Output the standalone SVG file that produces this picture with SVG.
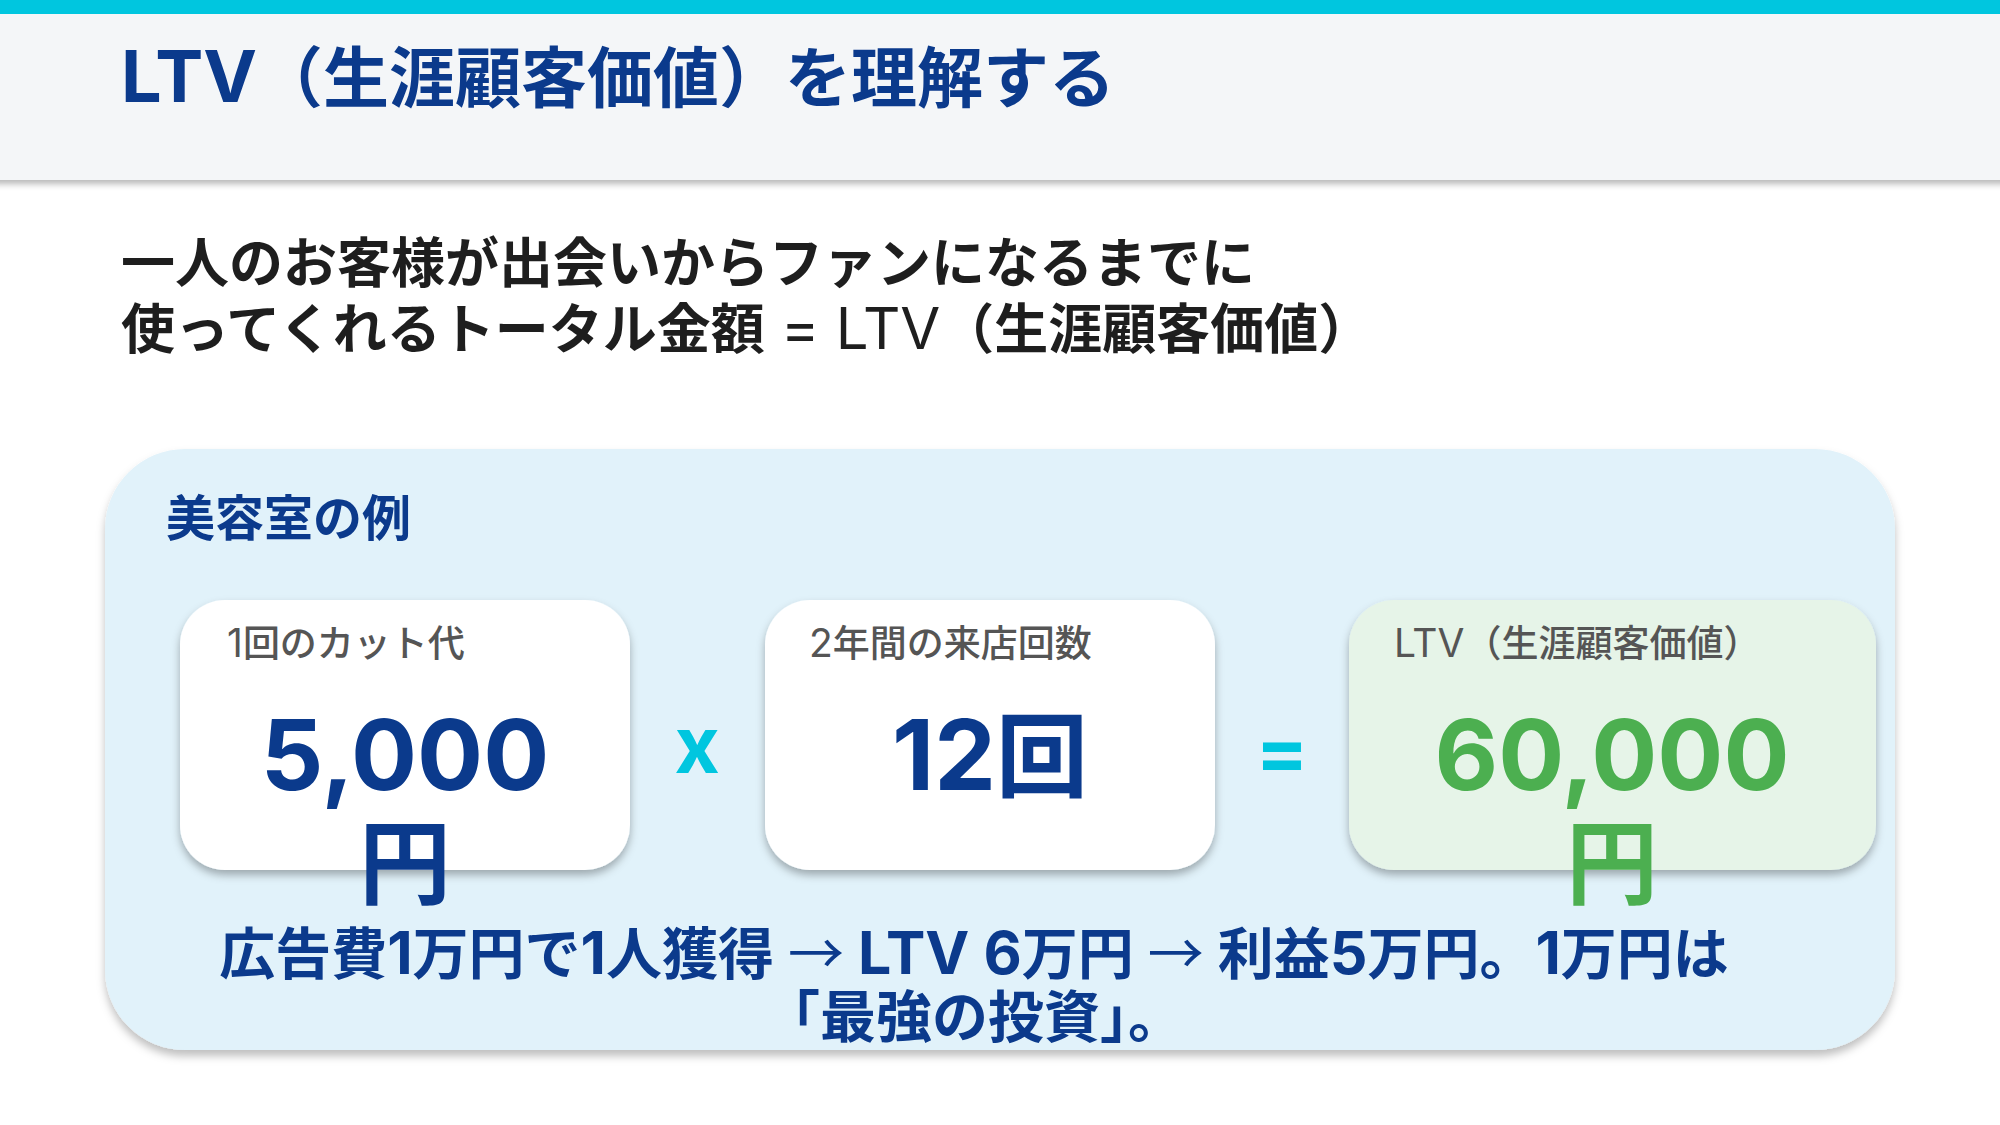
<svg xmlns="http://www.w3.org/2000/svg" width="2000" height="1125" viewBox="0 0 2000 1125">
  <defs>
    <filter id="hdrShadow" x="-5%" y="-20%" width="110%" height="150%">
      <feDropShadow dx="0" dy="4" stdDeviation="3" flood-color="#000" flood-opacity="0.28"/>
    </filter>
    <filter id="panelShadow" x="-5%" y="-5%" width="110%" height="115%">
      <feDropShadow dx="0" dy="6" stdDeviation="4" flood-color="#000" flood-opacity="0.25"/>
    </filter>
    <filter id="cardShadow" x="-10%" y="-10%" width="120%" height="125%">
      <feDropShadow dx="0" dy="5" stdDeviation="4" flood-color="#000" flood-opacity="0.3"/>
    </filter>
  </defs>
  <style>
    text { font-family: "Inter", "Noto Sans CJK JP", sans-serif; }
    .title { font-size: 66px; font-weight: 700; fill: #0b3a8c; }
    .title .lat { font-size: 72px; }
    .sub { font-size: 54px; font-weight: 700; fill: #1e1e1e; }
    .sub .lat { font-size: 58px; font-weight: 400; }
    .panelTitle { font-size: 49px; font-weight: 700; fill: #0b3a8c; }
    .label { font-size: 37px; font-weight: 500; fill: #555555; }
    .label .lat { font-size: 39px; font-weight: 400; }
    .big { font-size: 92px; font-weight: 700; fill: #0b3a8c; text-anchor: middle; }
    .bigGreen { font-size: 92px; font-weight: 700; fill: #4caf50; text-anchor: middle; }
    .num { font-size: 98px; }
    .op { font-size: 78px; font-weight: 700; fill: #00c6df; text-anchor: middle; }
    .note { font-size: 56px; font-weight: 700; fill: #0b3a8c; text-anchor: middle; }
    .note .lat { font-size: 59px; }
    .note .arr { font-family: "Noto Sans CJK JP", sans-serif; font-weight: 400; }
    .card { fill: #ffffff; }
    .cardGreen { fill: #e6f4e8; }
  </style>
  <rect x="0" y="0" width="2000" height="1125" fill="#ffffff"/>
  <g id="header">
    <rect x="-10" y="0" width="2020" height="180" fill="#f4f6f8" filter="url(#hdrShadow)"/>
    <rect x="0" y="0" width="2000" height="14" fill="#00c6df"/>
    <text class="title" x="121" y="102"><tspan class="lat">LTV</tspan>（生涯顧客価値）を理解する</text>
  </g>
  <g id="subtitle">
    <text class="sub" x="121" y="283">一人のお客様が出会いからファンになるまでに</text>
    <text class="sub" x="121" y="349">使ってくれるトータル金額<tspan class="lat"> = LTV</tspan>（生涯顧客価値）</text>
  </g>
  <g id="panel">
    <rect x="105" y="449" width="1790" height="601" rx="80" ry="80" fill="#e1f2fa" filter="url(#panelShadow)"/>
    <text class="panelTitle" x="166" y="536">美容室の例</text>
  </g>
  <g id="card-cut-price">
    <rect class="card" x="180" y="600" width="450" height="270" rx="45" ry="45" filter="url(#cardShadow)"/>
    <text class="label" x="227" y="657"><tspan class="lat">1</tspan>回のカット代</text>
    <text class="big" x="405" y="790"><tspan class="num">5,000</tspan></text>
    <text class="big" x="405" y="897">円</text>
  </g>
  <g id="op-times">
    <text class="op" x="697" y="773">x</text>
  </g>
  <g id="card-visits">
    <rect class="card" x="765" y="600" width="450" height="270" rx="45" ry="45" filter="url(#cardShadow)"/>
    <text class="label" x="809" y="657"><tspan class="lat">2</tspan>年間の来店回数</text>
    <text class="big" x="990" y="790"><tspan class="num">12</tspan>回</text>
  </g>
  <g id="op-equals">
    <text class="op" x="1282" y="779">=</text>
  </g>
  <g id="card-ltv">
    <rect class="cardGreen" x="1349" y="600" width="527" height="270" rx="45" ry="45" filter="url(#cardShadow)"/>
    <text class="label" x="1394" y="657"><tspan class="lat">LTV</tspan>（生涯顧客価値）</text>
    <text class="bigGreen" x="1612" y="790"><tspan class="num">60,000</tspan></text>
    <text class="bigGreen" x="1612" y="897">円</text>
  </g>
  <g id="note">
    <text class="note" x="974" y="974">広告費<tspan class="lat">1</tspan>万円で<tspan class="lat">1</tspan>人獲得<tspan class="lat"> </tspan><tspan class="arr">→</tspan><tspan class="lat"> LTV 6</tspan>万円<tspan class="lat"> </tspan><tspan class="arr">→</tspan><tspan class="lat"> </tspan>利益<tspan class="lat">5</tspan>万円。<tspan class="lat">1</tspan>万円は</text>
    <text class="note" x="974" y="1037">「最強の投資」。</text>
  </g>
  <g id="connectors"></g>
</svg>
